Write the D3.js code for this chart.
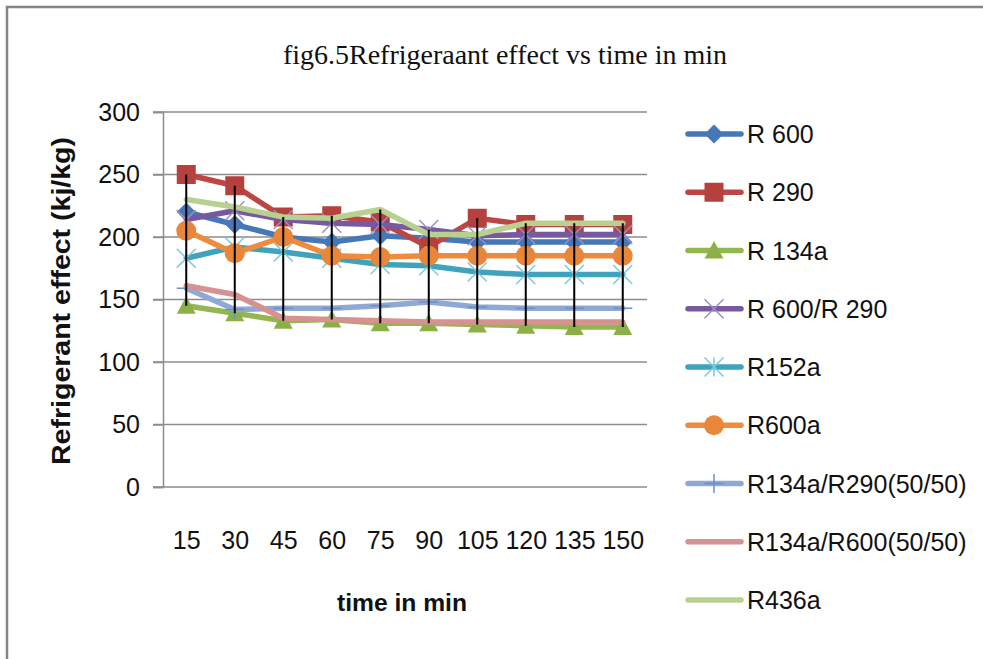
<!DOCTYPE html>
<html>
<head>
<meta charset="utf-8">
<script src="https://cdn.jsdelivr.net/npm/d3@7"></script>
<style>
  html, body { margin: 0; padding: 0; background: #fff; }
  svg { display: block; }
</style>
</head>
<body>
<script>
// ---------- data ----------
const times = [15, 30, 45, 60, 75, 90, 105, 120, 135, 150];
const seriesNames = ["R 600", "R 290", "R 134a", "R 600/R 290", "R152a", "R600a",
  "R134a/R290(50/50)", "R134a/R600(50/50)", "R436a"];
const r600      = [220, 210, 200, 196, 201, 199, 196, 196, 196, 196];
const r290      = [250, 241, 216, 217, 212, 192, 215, 210, 210, 210];
const r134a     = [145, 139, 133, 134, 131, 131, 130, 129, 128, 128];
const r600r290  = [214, 221, 214, 211, 210, 206, 201, 202, 202, 202];
const r152a     = [183, 192, 188, 183, 178, 177, 172, 170, 170, 170];
const r600a     = [205, 187, 200, 185, 184, 185, 185, 185, 185, 185];
const r134aR290 = [159, 142, 143, 143, 145, 148, 144, 143, 143, 143];
const r134aR600 = [161, 154, 135, 134, 133, 132, 132, 132, 132, 132];
const r436a     = [230, 224, 216, 215, 222, 202, 202, 211, 211, 211];
const yTicks = [0, 50, 100, 150, 200, 250, 300];
const titleText = "fig6.5Refrigeraant effect vs time in min";
const yTitle = "Refrigerant effect (kj/kg)";
const xTitle = "time in min";

const values = [r600, r290, r134a, r600r290, r152a, r600a, r134aR290, r134aR600, r436a];
const colors = ["#4677B6", "#BC4643", "#93B651", "#7659A0", "#40A3BD", "#EE8B3D", "#8FA9D5", "#D69290", "#B8D190"];
const markerColors = ["#4677B6", "#B5413F", "#8CB048", "#9E8DC6", "#7CC8DE", "#E8873A", "#6E8FCB", null, null];
const markers = ["diamond", "square", "triangle", "x", "star", "circle", "plus", null, null];

// ---------- layout ----------
const W = 983, H = 659;
const svg = d3.select("body").append("svg").attr("width", W).attr("height", H);
svg.append("rect").attr("width", W).attr("height", H).attr("fill", "#fff");

// outer frame (left & top visible)
svg.append("path").attr("d", `M7,${H} L7,7 L${W},7`).attr("fill", "none")
  .attr("stroke", "#858585").attr("stroke-width", 2.5);

const plotL = 163, plotR = 647, plotT = 112, plotB = 487;
const x = d3.scalePoint().domain(times).range([162, 647]).padding(0.5);
const y = d3.scaleLinear().domain([0, 300]).range([plotB, plotT]);

const sansFont = "'Liberation Sans', Arial, sans-serif";

// title
svg.append("text").attr("x", 505).attr("y", 64).attr("text-anchor", "middle")
  .attr("font-family", "'Liberation Serif', 'Times New Roman', serif")
  .attr("font-size", 28).attr("fill", "#111").text(titleText);

// gridlines
svg.append("g").selectAll("line").data(yTicks).join("line")
  .attr("x1", 153).attr("x2", plotR).attr("y1", d => y(d)).attr("y2", d => y(d))
  .attr("stroke", "#8C8C8C").attr("stroke-width", 1.5);

// y axis
const yAxis = svg.append("g").attr("transform", `translate(${plotL},0)`)
  .call(d3.axisLeft(y).tickValues(yTicks).tickSize(10).tickPadding(13));
yAxis.select(".domain").attr("stroke", "#8C8C8C").attr("stroke-width", 1.5);
yAxis.selectAll(".tick line").attr("stroke", "#8C8C8C").attr("stroke-width", 1.5);
yAxis.selectAll("text").attr("font-family", sansFont).attr("font-size", 25).attr("fill", "#111");

// x axis (labels only)
const xAxis = svg.append("g").attr("transform", `translate(0,${plotB})`)
  .call(d3.axisBottom(x).tickSize(0).tickPadding(44));
xAxis.select(".domain").remove();
xAxis.selectAll(".tick line").remove();
xAxis.selectAll("text").attr("font-family", sansFont).attr("font-size", 25).attr("fill", "#111");

// axis titles
svg.append("text").attr("transform", `translate(70,301) rotate(-90)`)
  .attr("text-anchor", "middle").attr("font-family", sansFont).attr("font-weight", "bold")
  .attr("font-size", 25).attr("textLength", 328).attr("lengthAdjust", "spacingAndGlyphs")
  .attr("fill", "#111").text(yTitle);
svg.append("text").attr("x", 402).attr("y", 611).attr("text-anchor", "middle")
  .attr("font-family", sansFont).attr("font-weight", "bold").attr("font-size", 24)
  .attr("textLength", 130).attr("lengthAdjust", "spacingAndGlyphs")
  .attr("fill", "#111").text(xTitle);

// marker drawing
function drawMarker(g, type, cx, cy, color) {
  if (!type) return;
  const s = 9.5;
  if (type === "diamond") {
    g.append("path").attr("d", `M${cx},${cy - s} L${cx + s},${cy} L${cx},${cy + s} L${cx - s},${cy} Z`).attr("fill", color);
  } else if (type === "square") {
    g.append("rect").attr("x", cx - s).attr("y", cy - s).attr("width", 2 * s).attr("height", 2 * s).attr("fill", color);
  } else if (type === "triangle") {
    g.append("path").attr("d", `M${cx},${cy - s} L${cx + s},${cy + s * 0.85} L${cx - s},${cy + s * 0.85} Z`).attr("fill", color);
  } else if (type === "circle") {
    g.append("circle").attr("cx", cx).attr("cy", cy).attr("r", 10).attr("fill", color);
  } else if (type === "x") {
    g.append("path").attr("d", `M${cx - s},${cy - s} L${cx + s},${cy + s} M${cx - s},${cy + s} L${cx + s},${cy - s}`)
      .attr("stroke", color).attr("stroke-width", 1.5).attr("fill", "none");
  } else if (type === "star") {
    g.append("path").attr("d", `M${cx - s},${cy - s} L${cx + s},${cy + s} M${cx - s},${cy + s} L${cx + s},${cy - s} M${cx},${cy - s} L${cx},${cy + s}`)
      .attr("stroke", color).attr("stroke-width", 1.5).attr("fill", "none");
  } else if (type === "plus") {
    g.append("path").attr("d", `M${cx - s},${cy} L${cx + s},${cy} M${cx},${cy - s} L${cx},${cy + s}`)
      .attr("stroke", color).attr("stroke-width", 1.5).attr("fill", "none");
  }
}

// series
const lineGen = d3.line().x((d, i) => x(times[i])).y(d => y(d));
const seriesG = svg.append("g");
values.forEach((vals, k) => {
  const g = seriesG.append("g");
  g.append("path").attr("d", lineGen(vals)).attr("fill", "none")
    .attr("stroke", colors[k]).attr("stroke-width", 5.5)
    .attr("stroke-linejoin", "round").attr("stroke-linecap", "round");
  vals.forEach((v, i) => drawMarker(g, markers[k], x(times[i]), y(v), markerColors[k]));
});

// high-low lines
const hiLo = times.map((t, i) => {
  const col = values.map(s => s[i]);
  return { t: t, hi: d3.max(col), lo: d3.min(col) };
});
svg.append("g").attr("class", "hilo").selectAll("line").data(hiLo).join("line")
  .attr("x1", d => x(d.t)).attr("x2", d => x(d.t))
  .attr("y1", d => y(d.hi)).attr("y2", d => y(d.lo))
  .attr("stroke", "#000").attr("stroke-width", 2);

// legend
const legendY = d3.scalePoint().domain(seriesNames).range([134, 600]);
const legend = svg.append("g");
seriesNames.forEach((name, k) => {
  const ly = legendY(name);
  const g = legend.append("g");
  g.append("line").attr("x1", 688).attr("x2", 741).attr("y1", ly).attr("y2", ly)
    .attr("stroke", colors[k]).attr("stroke-width", 5.5).attr("stroke-linecap", "round");
  drawMarker(g, markers[k], 714, ly, markerColors[k]);
  g.append("text").attr("x", 747).attr("y", ly + 9).attr("font-family", sansFont)
    .attr("font-size", 25).attr("fill", "#111").text(name);
});
</script>
</body>
</html>
